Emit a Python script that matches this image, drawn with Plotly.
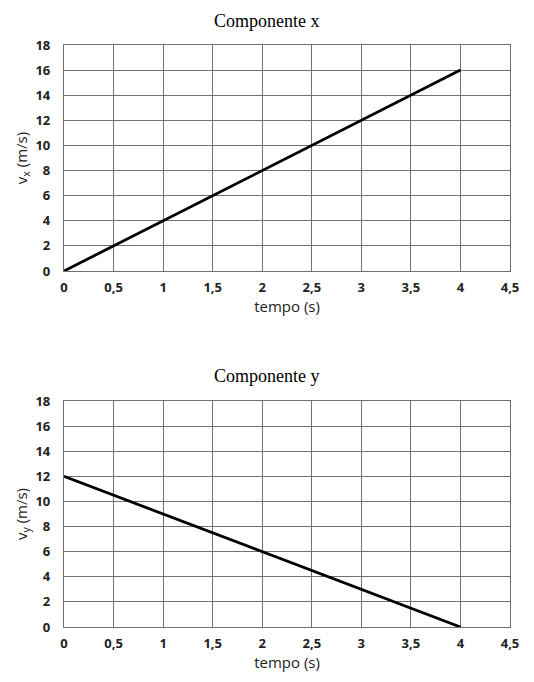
import plotly.graph_objects as go

tempo = [0, 4]
vx = [0, 16]
vy = [12, 0]
x_ticks = [0, 0.5, 1, 1.5, 2, 2.5, 3, 3.5, 4, 4.5]
x_ticktext = ["<b>0</b>", "<b>0,5</b>", "<b>1</b>", "<b>1,5</b>", "<b>2</b>", "<b>2,5</b>",
              "<b>3</b>", "<b>3,5</b>", "<b>4</b>", "<b>4,5</b>"]
y_ticks = list(range(0, 19, 2))
y_ticktext = ["<b>%d</b>" % v for v in y_ticks]

OFF = 8  # page body margin
W, H = 534 - OFF, 682 - OFF
fig = go.Figure()
fig.add_trace(go.Scatter(x=tempo, y=vx, mode="lines", line=dict(color="black", width=2.8),
                         xaxis="x", yaxis="y", showlegend=False))
fig.add_trace(go.Scatter(x=tempo, y=vy, mode="lines", line=dict(color="black", width=2.8),
                         xaxis="x2", yaxis="y2", showlegend=False))


def px_x(p):
    return (p - OFF) / W


def px_y(p):
    return 1 - (p - OFF) / H


xdom = [px_x(64), px_x(510)]
top_dom = [px_y(271), px_y(45)]
bot_dom = [px_y(627), px_y(401)]

tickfont = dict(family="Open Sans", size=13, color="#222")
axfont = dict(family="Open Sans", size=15, color="#222")
common_x = dict(range=[0, 4.5], tickvals=x_ticks, ticktext=x_ticktext, showgrid=True,
                gridcolor="#707070", gridwidth=1.2, showline=True, linecolor="#707070",
                linewidth=1.2, mirror=True,
                zeroline=False, tickfont=tickfont, ticks="", ticklabelstandoff=4,
                fixedrange=True, automargin=False)
common_y = dict(range=[0, 18], tickvals=y_ticks, ticktext=y_ticktext, showgrid=True,
                gridcolor="#707070", gridwidth=1.2, showline=True, linecolor="#707070",
                linewidth=1.2, mirror=True, zeroline=False, tickfont=tickfont,
                ticks="", ticklabelstandoff=10,
                fixedrange=True, automargin=False)

fig.update_layout(
    width=W, height=H, margin=dict(l=0, r=0, t=0, b=0, autoexpand=False),
    paper_bgcolor="white", plot_bgcolor="white",
    xaxis=dict(domain=xdom, anchor="y", **common_x,
               title=dict(text="tempo (s)", font=axfont, standoff=0)),
    yaxis=dict(domain=top_dom, anchor="x", **common_y,
               title=dict(text="v<sub>x</sub> (m/s)", font=axfont, standoff=4)),
    xaxis2=dict(domain=xdom, anchor="y2", **common_x,
                title=dict(text="tempo (s)", font=axfont, standoff=0)),
    yaxis2=dict(domain=bot_dom, anchor="x2", **common_y,
                title=dict(text="v<sub>y</sub> (m/s)", font=axfont, standoff=4)),
    annotations=[
        dict(text="Componente x", x=px_x(267), y=px_y(21), xref="paper", yref="paper",
             xanchor="center", yanchor="middle",
             showarrow=False, font=dict(family="Liberation Serif", size=18, color="black")),
        dict(text="Componente y", x=px_x(267), y=px_y(376), xref="paper", yref="paper",
             xanchor="center", yanchor="middle",
             showarrow=False, font=dict(family="Liberation Serif", size=18, color="black")),
    ],
)
fig.write_html("out.html")
